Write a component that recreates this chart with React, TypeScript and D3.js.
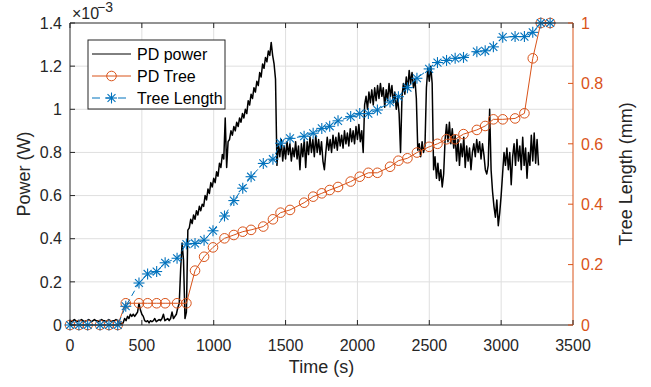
import React from "react";
import * as d3 from "d3";

// ---- Data ----
const powerStep = 10; // seconds between power samples (starting at t = 0)
// PD power, in units of 1e-3 W
const powerValues = [
  0.02,0.015,0.02,0.025,0.02,0.015,0.02,0.02,0.025,0.02,
  0.015,0.02,0.02,0.025,0.02,0.015,0.02,0.025,0.02,0.02,
  0.015,0.02,0.025,0.02,0.02,0.015,0.02,0.025,0.02,0.015,
  0.02,0.02,0.025,0.02,0.01,0.005,0.005,0.01,0.03,0.02,
  0.04,0.03,0.05,0.04,0.05,0.04,0.05,0.06,0.10,0.07,
  0.05,0.04,0.02,0.015,0.02,0.01,0.02,0.015,0.02,0.03,
  0.015,0.02,0.025,0.02,0.03,0.05,0.02,0.025,0.03,0.02,
  0.03,0.06,0.03,0.04,0.05,0.08,0.10,0.26,0.38,0.30,
  0.03,0.06,0.44,0.45,0.49,0.47,0.51,0.49,0.53,0.51,
  0.55,0.53,0.56,0.55,0.60,0.58,0.63,0.61,0.66,0.64,
  0.68,0.66,0.71,0.69,0.75,0.73,0.79,0.77,0.96,0.73,
  0.85,0.86,0.90,0.88,0.92,0.90,0.94,0.92,0.96,0.94,
  0.98,0.96,1.00,0.98,1.04,1.02,1.07,1.05,1.10,1.08,
  1.13,1.11,1.17,1.15,1.21,1.19,1.24,1.22,1.27,1.25,
  1.31,1.25,1.21,1.14,0.74,0.84,0.78,0.86,0.76,0.83,
  0.77,0.85,0.79,0.84,0.76,0.82,0.78,0.85,0.77,0.83,
  0.72,0.84,0.78,0.86,0.73,0.85,0.79,0.87,0.80,0.86,
  0.78,0.88,0.80,0.86,0.79,0.85,0.76,0.72,0.80,0.87,
  0.81,0.86,0.80,0.88,0.82,0.87,0.81,0.89,0.83,0.88,
  0.82,0.90,0.84,0.89,0.83,0.91,0.85,0.90,0.84,0.92,
  0.86,0.93,0.85,0.90,0.80,1.02,1.06,1.00,1.08,1.03,
  1.09,1.02,1.10,1.04,1.11,1.05,1.12,1.06,1.10,1.01,
  1.09,1.04,1.12,1.06,1.11,1.03,1.08,1.00,1.05,0.98,
  0.80,1.06,1.12,1.07,1.15,1.09,1.18,1.12,1.17,1.10,
  1.14,1.05,0.81,0.84,0.78,0.85,0.80,0.83,1.10,1.19,
  1.13,1.20,1.12,0.72,0.78,0.68,0.75,0.67,0.72,0.64,
  0.70,0.86,0.93,0.85,0.94,0.84,0.91,0.82,0.88,0.76,
  0.86,0.74,0.84,0.78,0.87,0.73,0.83,0.76,0.82,0.72,
  0.80,0.84,0.78,0.86,0.80,0.85,0.77,0.84,0.79,0.72,
  0.70,0.74,1.00,0.72,0.62,0.55,0.50,0.58,0.46,0.52,
  0.60,0.70,0.80,0.74,0.82,0.72,0.80,0.65,0.78,0.84,
  0.74,0.86,0.76,0.83,0.72,0.87,0.74,0.82,0.68,0.80,
  0.74,0.88,0.76,0.89,0.75,0.86,0.74,
];

// Sampling times shared by the two tree series (s)
const treeTimes = [
  0, 62, 123, 209, 271, 332, 388, 480, 540, 603, 662, 745, 810, 870, 933, 995,
  1075, 1140, 1202, 1260, 1345, 1412, 1465, 1531, 1629, 1692, 1752, 1807, 1865,
  1953, 2016, 2076, 2139, 2227, 2285, 2348, 2414, 2499, 2557, 2620, 2680, 2738,
  2831, 2889, 2946, 3011, 3097, 3162, 3220, 3276, 3341,
];
// PD Tree (mm, right axis)
const pdTreeValues = [
  0, 0, 0, 0, 0, 0, 0.072, 0.072, 0.072, 0.072, 0.072, 0.072, 0.072,
  0.18, 0.226, 0.257, 0.287, 0.298, 0.309, 0.315, 0.326, 0.35, 0.372, 0.381,
  0.405, 0.425, 0.436, 0.447, 0.457, 0.475, 0.491, 0.504, 0.504, 0.524, 0.544,
  0.552, 0.571, 0.59, 0.6, 0.615, 0.615, 0.632, 0.646, 0.659, 0.681, 0.681,
  0.684, 0.701, 0.883, 1.0, 1.0,
];
// Tree Length (mm, right axis)
const treeLengthValues = [
  0, 0, 0, 0, 0, 0, 0.062, 0.139, 0.169, 0.177, 0.206, 0.221, 0.268, 0.27,
  0.281, 0.312, 0.361, 0.412, 0.453, 0.491, 0.535, 0.549, 0.602, 0.618, 0.625,
  0.635, 0.651, 0.658, 0.676, 0.69, 0.7, 0.7, 0.712, 0.738, 0.756, 0.786,
  0.817, 0.848, 0.869, 0.876, 0.883, 0.886, 0.905, 0.908, 0.921, 0.953, 0.955,
  0.955, 0.969, 1.0, 1.0,
];

const xTickValues = [0, 500, 1000, 1500, 2000, 2500, 3000, 3500];
const xTickLabels = ["0", "500", "1000", "1500", "2000", "2500", "3000", "3500"];
const yLeftTickValues = [0, 0.2, 0.4, 0.6, 0.8, 1, 1.2, 1.4];
const yLeftTickLabels = ["0", "0.2", "0.4", "0.6", "0.8", "1", "1.2", "1.4"];
const yRightTickValues = [0, 0.2, 0.4, 0.6, 0.8, 1];
const yRightTickLabels = ["0", "0.2", "0.4", "0.6", "0.8", "1"];

const legendLabels = ["PD power", "PD Tree", "Tree Length"];

// ---- Styles ----
const W = 651;
const H = 387;
const L = 70, R = 573, T = 23, B = 325;
const ORANGE = "#D95319";
const BLUE = "#0072BD";
const DARK = "#262626";
const GRID = "#dfdfdf";
const FONT = "'Liberation Sans', Arial, Helvetica, sans-serif";

function Star({ cx, cy, s = 5.5 }: { cx: number; cy: number; s?: number }) {
  const d = s * 0.72;
  return (
    <g stroke={BLUE} strokeWidth={1.1} fill="none">
      <line x1={cx - s} y1={cy} x2={cx + s} y2={cy} />
      <line x1={cx} y1={cy - s} x2={cx} y2={cy + s} />
      <line x1={cx - d} y1={cy - d} x2={cx + d} y2={cy + d} />
      <line x1={cx - d} y1={cy + d} x2={cx + d} y2={cy - d} />
    </g>
  );
}

export default function App() {
  const x = d3.scaleLinear().domain([0, 3500]).range([L, R]);
  const yL = d3.scaleLinear().domain([0, 1.4]).range([B, T]);
  const yR = d3.scaleLinear().domain([0, 1]).range([B, T]);

  const powerLine = d3
    .line<number>()
    .x((_, i) => x(i * powerStep))
    .y((d) => yL(d))(powerValues) as string;

  const treePts = treeTimes.map((t, i) => [x(t), yR(pdTreeValues[i])] as [number, number]);
  const lenPts = treeTimes.map((t, i) => [x(t), yR(treeLengthValues[i])] as [number, number]);
  const lineGen = d3.line<[number, number]>();

  const tickLen = 5;
  const legX = 88, legY = 40, legW = 137, legH = 69;
  const legRows = [54, 76, 98];
  const lx1 = 92, lx2 = 131, lxm = (lx1 + lx2) / 2;

  return (
    <svg
      width={W}
      height={H}
      style={{ position: "fixed", left: 0, top: 0, display: "block", background: "#fff" }}
      fontFamily={FONT}
    >
      <rect x={0} y={0} width={W} height={H} fill="#fff" />
      {/* grid */}
      <g stroke={GRID} strokeWidth={1}>
        {xTickValues.slice(1, -1).map((v) => (
          <line key={"gx" + v} x1={x(v)} x2={x(v)} y1={T} y2={B} />
        ))}
        {yLeftTickValues.slice(1, -1).map((v) => (
          <line key={"gy" + v} x1={L} x2={R} y1={yL(v)} y2={yL(v)} />
        ))}
      </g>

      {/* PD power */}
      <path d={powerLine} fill="none" stroke="#000" strokeWidth={1.5} strokeLinejoin="round" />

      {/* PD Tree */}
      <path d={lineGen(treePts) as string} fill="none" stroke={ORANGE} strokeWidth={1} />
      {treePts.map(([px, py], i) => (
        <circle key={"c" + i} cx={px} cy={py} r={4.8} fill="none" stroke={ORANGE} strokeWidth={1} />
      ))}

      {/* Tree Length */}
      <path d={lineGen(lenPts) as string} fill="none" stroke={BLUE} strokeWidth={1} strokeDasharray="6,4" />
      {lenPts.map(([px, py], i) => (
        <Star key={"s" + i} cx={px} cy={py} />
      ))}

      {/* axes box */}
      <line x1={L} x2={R} y1={T} y2={T} stroke={DARK} strokeWidth={1} />
      <line x1={L} x2={R} y1={B} y2={B} stroke={DARK} strokeWidth={1} />
      <line x1={L} x2={L} y1={T} y2={B} stroke={DARK} strokeWidth={1} />
      <line x1={R} x2={R} y1={T} y2={B} stroke={ORANGE} strokeWidth={1} />

      {/* ticks */}
      <g stroke={DARK} strokeWidth={1}>
        {xTickValues.map((v) => (
          <g key={"xt" + v}>
            <line x1={x(v)} x2={x(v)} y1={B} y2={B - tickLen} />
            <line x1={x(v)} x2={x(v)} y1={T} y2={T + tickLen} />
          </g>
        ))}
        {yLeftTickValues.map((v) => (
          <line key={"ylt" + v} x1={L} x2={L + tickLen} y1={yL(v)} y2={yL(v)} />
        ))}
      </g>
      <g stroke={ORANGE} strokeWidth={1}>
        {yRightTickValues.map((v) => (
          <line key={"yrt" + v} x1={R} x2={R - tickLen} y1={yR(v)} y2={yR(v)} />
        ))}
      </g>

      {/* tick labels */}
      <g fontSize={16} fill={DARK}>
        {xTickValues.map((v, i) => (
          <text key={"xl" + v} x={x(v)} y={351} textAnchor="middle">
            {xTickLabels[i]}
          </text>
        ))}
        {yLeftTickValues.map((v, i) => (
          <text key={"yl" + v} x={62} y={yL(v) + 5.7} textAnchor="end">
            {yLeftTickLabels[i]}
          </text>
        ))}
      </g>
      <g fontSize={16} fill={ORANGE}>
        {yRightTickValues.map((v, i) => (
          <text key={"yr" + v} x={581} y={yR(v) + 5.7} textAnchor="start">
            {yRightTickLabels[i]}
          </text>
        ))}
      </g>

      {/* exponent */}
      <text x={72} y={18.5} fontSize={16} fill={DARK}>
        ×10
      </text>
      <text x={97} y={11.5} fontSize={14} fill={DARK}>
        −3
      </text>

      {/* axis titles */}
      <text x={(L + R) / 2} y={373} fontSize={18} fill={DARK} textAnchor="middle">
        Time (s)
      </text>
      <text
        transform={`translate(30,${(T + B) / 2}) rotate(-90)`}
        fontSize={18}
        fill={DARK}
        textAnchor="middle"
      >
        Power (W)
      </text>
      <text
        transform={`translate(632,${(T + B) / 2}) rotate(-90)`}
        fontSize={18}
        fill={DARK}
        textAnchor="middle"
      >
        Tree Length (mm)
      </text>

      {/* legend */}
      <rect x={legX} y={legY} width={legW} height={legH} fill="#fff" stroke={DARK} strokeWidth={1} />
      <line x1={lx1} x2={lx2} y1={legRows[0]} y2={legRows[0]} stroke="#000" strokeWidth={1} />
      <line x1={lx1} x2={lx2} y1={legRows[1]} y2={legRows[1]} stroke={ORANGE} strokeWidth={1} />
      <circle cx={lxm} cy={legRows[1]} r={4.8} fill="none" stroke={ORANGE} strokeWidth={1} />
      <line x1={lx1} x2={lx2} y1={legRows[2]} y2={legRows[2]} stroke={BLUE} strokeWidth={1} strokeDasharray="8,5" />
      <Star cx={lxm} cy={legRows[2]} />
      <g fontSize={16} fill="#000">
        {legendLabels.map((lab, i) => (
          <text key={lab} x={137} y={legRows[i] + 5.7}>
            {lab}
          </text>
        ))}
      </g>
    </svg>
  );
}
